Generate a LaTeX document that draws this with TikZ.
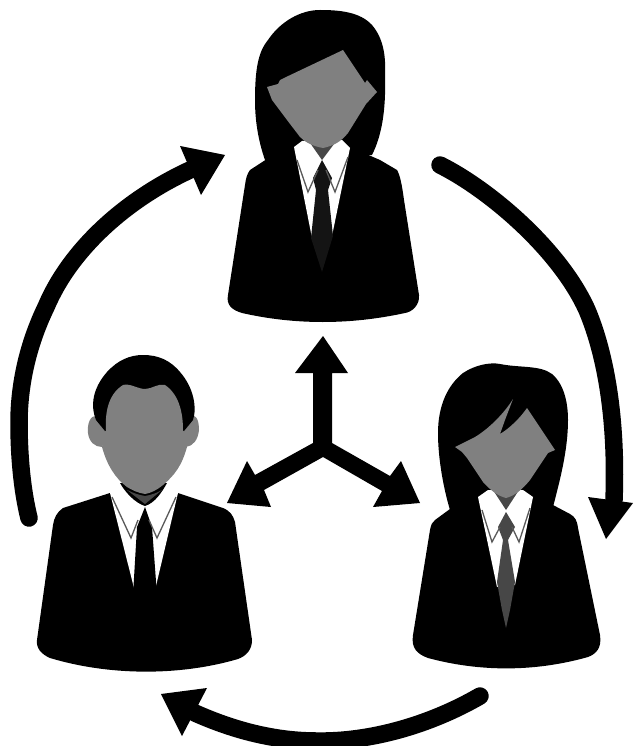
\documentclass[tikz,border=0pt]{standalone}
\tikzset{
  blk/.style={fill=black,draw=none},
  skin/.style={fill=black!50,draw=none},
  neck/.style={fill=black!72,draw=none},
  shirt/.style={fill=white,draw=none},
  collarline/.style={draw=black!65,line width=1.3pt,line join=miter},
  tiedark/.style={fill=black!92,draw=none},
  ring/.style={draw=black,line width=17.5pt,line cap=round}
}
\begin{document}
\begin{tikzpicture}[x=1pt,y=-1pt]
\useasboundingbox (0,0) rectangle (633,746);
\begin{scope}
\clip (0,0) rectangle (633,746);
% ---------- outer arrows
\draw[ring] (440,165) .. controls (490,190) and (560,250) .. (587,310)
  .. controls (606,355) and (617,420) .. (614,500);
\fill[blk] (588,497) -- (633,503) -- (606,539) -- cycle;
\draw[ring] (29,518) .. controls (22,490) and (19,455) .. (19,423)
  .. controls (19,380) and (30,340) .. (46,307)
  .. controls (70,250) and (125,200) .. (190,170);
\fill[blk] (225,155) -- (180,146) -- (201,195) -- cycle;
\draw[ring] (480,696) .. controls (430,725) and (370,742) .. (317,741)
  .. controls (280,741) and (240,733) .. (195,713);
\fill[blk] (161,694) -- (207,688) -- (182,736) -- cycle;
% ---------- centre arrows, one outline
\fill[blk] (323,336) -- (348,373) -- (332,373) -- (332,443) -- (390,476) -- (401,461) -- (420,503)
  -- (373,507) -- (382,491) -- (323,457) -- (264,490) -- (271,507) -- (227,503) -- (247,461)
  -- (255,475) -- (313,443) -- (313,373) -- (295,373) -- cycle;
% ---------- top woman
\fill[blk] (265,160) .. controls (258,140) and (255,120) .. (255,100)
  .. controls (255,70) and (258,52) .. (268,40)
  .. controls (280,22) and (300,10) .. (320,10)
  .. controls (340,10) and (360,12) .. (372,25)
  .. controls (383,38) and (386,55) .. (385,75)
  .. controls (386,110) and (382,135) .. (372,155) -- cycle;
\fill[blk] (250,170) -- (270,157) -- (294,146) -- (350,147) -- (380,160) -- (397,170)
  .. controls (400,175) and (402,185) .. (404,200)
  -- (419,295) .. controls (420,305) and (412,312) .. (405,313)
  .. controls (350,325) and (295,325) .. (242,313)
  .. controls (232,310) and (226,305) .. (228,295)
  -- (245,185) .. controls (246,178) and (247,174) .. (250,170) -- cycle;
\fill[shirt] (294,147) -- (302,141) -- (342,140) -- (350,148) -- (332,236) -- (312,238) -- cycle;
\fill[neck] (308,140) -- (322,160) -- (337,140) -- cycle;
\fill[skin] (267,87) -- (278,84) -- (280,80) -- (284,78) -- (343,50) -- (365,83) -- (367,80) -- (377,92)
  -- (366,104) -- (348,133) .. controls (340,143) and (332,146) .. (323,148)
  .. controls (312,146) and (305,142) .. (300,137) -- (287,120) -- (272,100) -- cycle;
\fill[tiedark] (322,160) -- (313,178) -- (316,190) -- (311,238) -- (322,272) -- (333,236) -- (328,190) -- (332,178) -- cycle;
\draw[collarline] (297,160) -- (308,192) -- (318,170);
\draw[collarline] (348,157) -- (335,192) -- (326,170);
% ---------- right woman
\fill[blk] (450,510) .. controls (444,490) and (438,460) .. (438,433)
  .. controls (438,405) and (448,385) .. (463,373)
  .. controls (475,365) and (490,362) .. (500,364)
  .. controls (520,368) and (540,365) .. (552,374)
  .. controls (565,385) and (568,405) .. (568,420)
  .. controls (568,450) and (560,480) .. (553,507) -- cycle;
\fill[blk] (435,520) -- (450,509) -- (478,497) -- (533,497) -- (553,505) -- (570,514)
  .. controls (575,517) and (577,520) .. (578,528)
  -- (600,635) .. controls (602,648) and (596,654) .. (588,657)
  .. controls (535,672) and (480,672) .. (428,658)
  .. controls (417,654) and (411,648) .. (413,635)
  -- (430,530) .. controls (431,525) and (432,522) .. (435,520) -- cycle;
\fill[shirt] (478,497) -- (488,490) -- (523,490) -- (533,497) -- (515,585) -- (497,587) -- cycle;
\fill[neck] (493,490) -- (506,510) -- (519,490) -- cycle;
\fill[skin] (455,447) -- (475,437) .. controls (490,428) and (505,412) .. (513,399)
  -- (505,420) -- (500,434) .. controls (510,428) and (520,418) .. (527,408)
  -- (555,450) -- (548,453) -- (540,465) -- (530,480) .. controls (522,490) and (514,496) .. (506,498)
  .. controls (498,496) and (490,490) .. (483,482) -- (467,458) -- (462,452) -- cycle;
\fill[neck] (506,512) -- (498,527) -- (503,540) -- (497,582) -- (502,610) -- (506,628) -- (510,610) -- (515,582) -- (508,540) -- (515,527) -- cycle;
\draw[collarline] (482,510) -- (492,542) -- (500,527);
\draw[collarline] (530,508) -- (519,542) -- (512,527);
% ---------- man
\fill[blk] (63,508) -- (110,493) -- (178,493) -- (223,508)
  .. controls (230,511) and (233,515) .. (235,522)
  -- (252,640) .. controls (252,650) and (246,656) .. (238,659)
  .. controls (180,676) and (110,676) .. (50,658)
  .. controls (41,654) and (36,648) .. (37,640)
  -- (53,525) .. controls (54,518) and (57,512) .. (63,508) -- cycle;
\fill[shirt] (110,493) -- (120,483) -- (167,483) -- (178,493) -- (156,586) -- (134,588) -- cycle;
\fill[blk] (120,483) .. controls (125,492) and (135,503) .. (145,506)
  .. controls (155,503) and (162,492) .. (167,483) -- cycle;
\fill[blk] (145,507) -- (137,527) -- (133,595) -- (157,595) -- (152,527) -- cycle;
\draw[collarline] (112,497) -- (131,538) -- (138,520);
\draw[collarline] (176,497) -- (157,538) -- (149,520);
% ears and face
\fill[skin] (98,417) .. controls (90,413) and (87,425) .. (88,433)
  .. controls (89,442) and (95,447) .. (102,447) -- (110,430) -- cycle;
\fill[skin] (190,417) .. controls (197,413) and (199,422) .. (199,430)
  .. controls (198,440) and (193,446) .. (186,447) -- (178,430) -- cycle;
\fill[blk] (105,431) -- (96,420) .. controls (90,405) and (93,388) .. (107,372)
  .. controls (118,360) and (130,355) .. (143,355)
  .. controls (158,355) and (170,360) .. (180,372)
  .. controls (194,388) and (197,408) .. (193,420)
  -- (184,431) -- (150,420) -- cycle;
\fill[skin] (106,431) .. controls (105,415) and (107,395) .. (123,385)
  .. controls (130,383) and (138,389) .. (145,389)
  .. controls (152,389) and (158,383) .. (165,385)
  .. controls (180,395) and (183,415) .. (183,430)
  -- (187,447) .. controls (182,465) and (175,475) .. (163,485)
  .. controls (157,490) and (151,493) .. (145,494)
  .. controls (138,493) and (132,490) .. (127,487)
  .. controls (115,478) and (107,465) .. (102,447) -- cycle;
\fill[neck] (127,490) .. controls (133,493) and (139,495) .. (145,496)
  .. controls (151,495) and (157,493) .. (162,490) -- (145,504) -- cycle;
\end{scope}
\end{tikzpicture}
\end{document}
